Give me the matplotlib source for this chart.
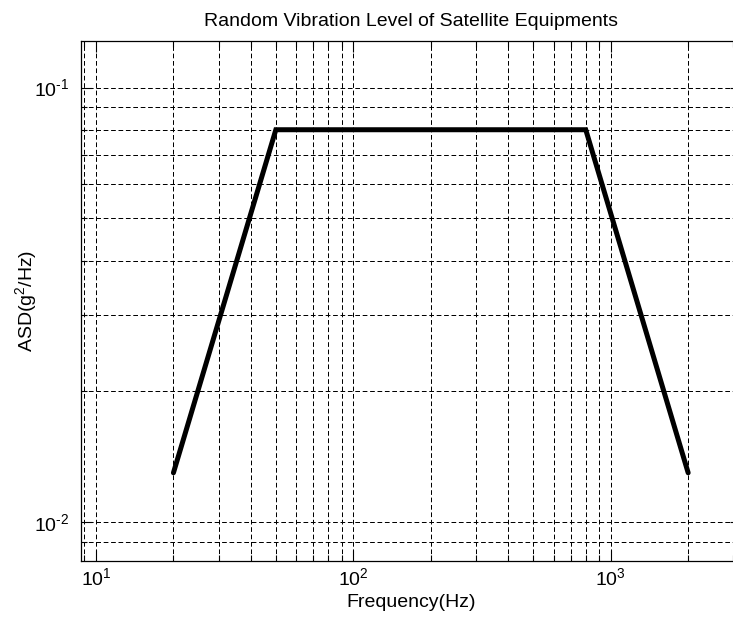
import matplotlib
matplotlib.use("Agg")
import matplotlib.pyplot as plt
import matplotlib.ticker as mticker
import numpy as np

plt.rcParams["font.family"] = ["Liberation Sans", "DejaVu Sans"]
plt.rcParams["mathtext.fontset"] = "custom"
plt.rcParams["mathtext.rm"] = "Liberation Sans"
plt.rcParams["mathtext.it"] = "Liberation Sans:italic"
plt.rcParams["mathtext.bf"] = "Liberation Sans:bold"
plt.rcParams["axes.unicode_minus"] = False

# Random vibration spec (frequency in Hz, ASD in g^2/Hz)
freq = [20, 50, 800, 2000]
asd = [0.013, 0.08, 0.08, 0.013]


def pow10_label(val, pos):
    # MATLAB-style "10^n" with a plain hyphen in the exponent
    n = int(round(np.log10(val)))
    return r"10$^{\text{%d}}$" % n


fig = plt.figure(figsize=(7.33, 6.24), dpi=100)
fig.patch.set_facecolor("white")
# axes run slightly past the right edge, as in the reference crop
ax = fig.add_axes([0.1109, 0.1014, 0.8996, 0.8329])

ax.loglog(freq, asd, color="black", linewidth=3.6, solid_capstyle="round",
          solid_joinstyle="miter")

ax.set_xlim(8.77, 3200)
ax.set_ylim(0.00816, 0.128)

ax.xaxis.set_major_locator(mticker.LogLocator(base=10, numticks=10))
ax.xaxis.set_minor_locator(mticker.LogLocator(base=10, subs=range(2, 10), numticks=20))
ax.yaxis.set_major_locator(mticker.LogLocator(base=10, numticks=10))
ax.yaxis.set_minor_locator(mticker.LogLocator(base=10, subs=range(2, 10), numticks=20))
ax.xaxis.set_major_formatter(mticker.FuncFormatter(pow10_label))
ax.yaxis.set_major_formatter(mticker.FuncFormatter(pow10_label))
ax.xaxis.set_minor_formatter(mticker.NullFormatter())
ax.yaxis.set_minor_formatter(mticker.NullFormatter())

ax.grid(True, which="both", color="black", linewidth=0.72,
        linestyle=(0, (4.7, 2.7)))
ax.set_axisbelow(True)

ax.tick_params(which="both", direction="in", top=True, right=True,
               color="black", labelsize=14)
ax.tick_params(which="major", length=8, width=0.8)
ax.tick_params(which="minor", length=4, width=0.8)
ax.tick_params(axis="x", which="major", pad=5)
ax.tick_params(axis="y", which="major", pad=9)

for spine in ax.spines.values():
    spine.set_color("black")
    spine.set_linewidth(0.9)

ax.set_title("Random Vibration Level of Satellite Equipments", fontsize=14, pad=11)
ax.set_xlabel("Frequency(Hz)", fontsize=14, labelpad=3)
ax.set_ylabel("ASD(g$^2$/Hz)", fontsize=14)
ax.yaxis.set_label_coords(-0.064, 0.5)

fig.savefig("out.png", dpi=100, facecolor="white")
plt.close()
